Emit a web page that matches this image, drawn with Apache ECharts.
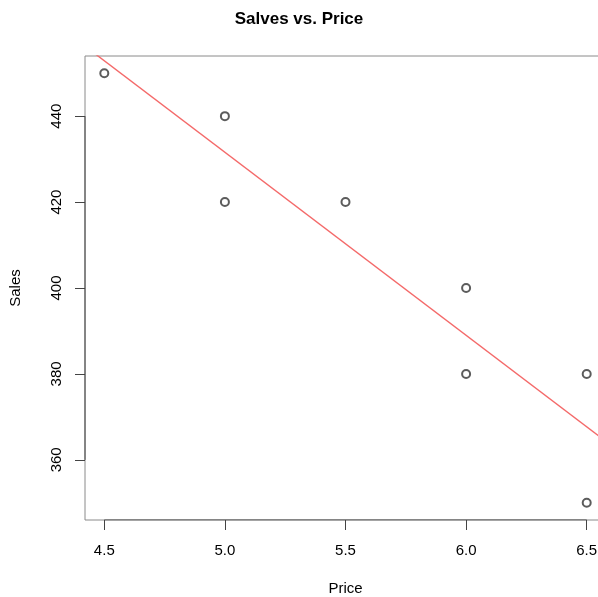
<!DOCTYPE html>
<html>
<head>
<meta charset="utf-8">
<script src="https://cdn.jsdelivr.net/npm/echarts@6/dist/echarts.min.js"></script>
<style>html,body{margin:0;padding:0;background:#fff}#c{width:598px;height:597px}</style>
</head>
<body>
<div id="c"></div>
<script>
var price = [4.5, 5.0, 5.0, 5.5, 6.0, 6.0, 6.5, 6.5];
var sales = [450, 440, 420, 420, 400, 380, 380, 350];
var xTicks = [4.5, 5.0, 5.5, 6.0, 6.5];
var yTicks = [360, 380, 400, 420, 440];
var fitX = [4.42, 6.58];
var fitY = [456.3, 364.3];
var xRange = [4.42, 6.58];
var yRange = [346, 454];

var pts = price.map(function (p, i) { return [p, sales[i]]; });
var fit = fitX.map(function (x, i) { return [x, fitY[i]]; });
var font = 'Liberation Sans, Arial, Helvetica, sans-serif';

var chart = echarts.init(document.getElementById('c'), null, {renderer: 'canvas'});
chart.setOption({
  animation: false,
  backgroundColor: '#fff',
  title: {
    text: 'Salves vs. Price', left: 'center', top: 6,
    textStyle: {fontFamily: font, fontWeight: 'bold', fontSize: 17, color: '#000'}
  },
  grid: {left: 85, right: -8, top: 56, bottom: 77, outerBoundsMode: 'none', containLabel: false,
    show: true, borderColor: '#8a8a8a', borderWidth: 1, backgroundColor: 'transparent'},
  xAxis: {
    type: 'value', min: xRange[0], max: xRange[1],
    name: 'Price', nameLocation: 'middle', nameGap: 61,
    nameTextStyle: {fontFamily: font, fontSize: 15, color: '#000'},
    axisLine: {show: false}, splitLine: {show: false},
    axisTick: {show: true, length: 10, customValues: xTicks, lineStyle: {color: '#444', width: 1}},
    axisLabel: {customValues: xTicks, margin: 23, fontFamily: font, fontSize: 15, color: '#000',
      formatter: function (v) { return v.toFixed(1); }}
  },
  yAxis: {
    type: 'value', min: yRange[0], max: yRange[1],
    name: 'Sales', nameLocation: 'middle', nameGap: 62, nameRotate: 90,
    nameTextStyle: {fontFamily: font, fontSize: 15, color: '#000'},
    axisLine: {show: false}, splitLine: {show: false},
    axisTick: {show: true, length: 10, customValues: yTicks, lineStyle: {color: '#444', width: 1}},
    axisLabel: {customValues: yTicks, rotate: 90, margin: 21, fontFamily: font, fontSize: 15, color: '#000'}
  },
  series: [
    {
      type: 'line', data: [[xRange[0], yTicks[0]], [xRange[0], yTicks[yTicks.length - 1]]],
      symbol: 'none', lineStyle: {color: '#444', width: 1}, silent: true, z: 1
    },
    {
      type: 'line', data: [[xTicks[0], yRange[0]], [xTicks[xTicks.length - 1], yRange[0]]],
      symbol: 'none', lineStyle: {color: '#444', width: 1}, silent: true, z: 1
    },
    {
      type: 'line', data: fit, symbol: 'none',
      lineStyle: {color: '#f46a6a', width: 1.4}, z: 2
    },
    {
      type: 'scatter', data: pts, symbol: 'emptyCircle', symbolSize: 8,
      itemStyle: {color: '#333', borderColor: '#333', borderWidth: 1}, z: 3
    }
  ]
});
</script>
</body>
</html>
